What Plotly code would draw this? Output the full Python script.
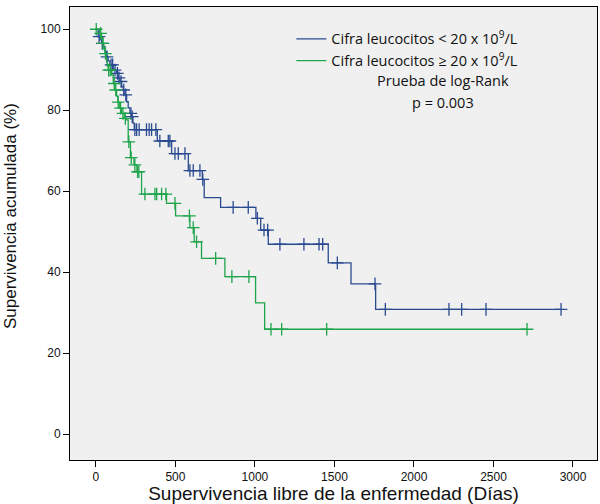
import numpy as np
import plotly.graph_objects as go

# ---- Data ----
# Group 1: Cifra leucocitos < 20 x 10^9/L
blue_event_days = [14, 25, 36, 46, 57, 67, 77, 88, 109, 130, 140, 151, 162, 172, 182, 193,
                   203, 214, 225, 233, 241, 386, 476, 581, 669, 681, 784, 1006, 1036, 1084,
                   1461, 1604, 1759]
blue_survival = [98.2, 97.4, 96.5, 95.7, 94.4, 93.2, 92.2, 91.2, 89.9, 89.1, 88.0, 87.1, 85.8,
                 85.0, 83.8, 82.1, 80.6, 79.2, 78.4, 76.8, 75.2, 72.4, 69.3, 65.1, 62.9, 58.4,
                 56.0, 53.3, 50.4, 46.9, 42.3, 37.1, 30.8]
blue_censor_days = [20, 40, 70, 95, 105, 120, 135, 145, 158, 175, 188, 220, 228, 245, 256, 272,
                    318, 335, 350, 377, 402, 455, 465, 497, 518, 560, 591, 612, 654, 672, 863,
                    958, 1015, 1057, 1080, 1157, 1308, 1403, 1426, 1518, 1755, 1820, 2220, 2300,
                    2453, 2925]
blue_last_day = 2925

# Group 2: Cifra leucocitos >= 20 x 10^9/L
green_event_days = [25, 35, 42, 50, 57, 63, 67, 72, 77, 99, 109, 119, 130, 138, 147, 162, 178,
                    192, 203, 217, 239, 258, 287, 444, 501, 591, 618, 664, 811, 1004, 1061]
green_survival = [99.0, 97.8, 96.5, 95.2, 94.0, 93.0, 92.0, 90.9, 89.9, 88.7, 86.6, 85.0, 83.5,
                  82.0, 80.5, 79.2, 78.0, 77.6, 72.2, 68.3, 66.5, 64.8, 59.3, 57.0, 53.9, 51.0,
                  47.5, 43.4, 38.9, 32.4, 25.9]
green_censor_days = [2, 30, 45, 60, 80, 90, 115, 125, 140, 155, 170, 185, 207, 222, 245, 262,
                     270, 308, 371, 382, 413, 440, 497, 588, 612, 633, 753, 855, 962, 1101, 1168,
                     1451, 2711]
green_last_day = 2711

label_blue = "Cifra leucocitos < 20 x 10<sup>9</sup>/L"
label_green = "Cifra leucocitos \u2265 20 x 10<sup>9</sup>/L"

x_ticks = [0, 500, 1000, 1500, 2000, 2500, 3000]
y_ticks = [0, 20, 40, 60, 80, 100]

BLUE = "#2a4a90"
GREEN = "#1ea54c"


def step_xy(days, surv, last):
    xs = [0] + list(days) + [last]
    ys = [100] + list(surv) + [surv[-1]]
    return xs, ys


def censor_y(days, surv, cens):
    full = np.array([100] + list(surv))
    idx = np.searchsorted(np.array(days), np.array(cens), side="right")
    return full[idx]


fig = go.Figure()
for days, surv, last, cens, col, name in [
    (blue_event_days, blue_survival, blue_last_day, blue_censor_days, BLUE, label_blue),
    (green_event_days, green_survival, green_last_day, green_censor_days, GREEN, label_green),
]:
    xs, ys = step_xy(days, surv, last)
    fig.add_trace(go.Scatter(x=xs, y=ys, mode="lines", line=dict(shape="hv", color=col, width=1.3),
                             name=name, hoverinfo="skip"))
    fig.add_trace(go.Scatter(x=cens, y=censor_y(days, surv, cens), mode="markers",
                             marker=dict(symbol="cross-thin", size=9,
                                         line=dict(color=col, width=1.3), color=col),
                             showlegend=False, hoverinfo="skip"))

L, R, T, B = 70, 3, 7, 44
PW, PH = 600 - L - R, 504 - T - B

axis_font = dict(family="Liberation Sans, Arial", size=12, color="#111")
fig.update_layout(
    width=600, height=504,
    margin=dict(l=L, r=R, t=T, b=B),
    paper_bgcolor="white", plot_bgcolor="#f0f0f0",
    showlegend=True,
    legend=dict(x=0.42, y=0.965, xanchor="left", yanchor="top", bgcolor="rgba(0,0,0,0)",
                font=dict(family="Open Sans", size=14.5, color="#111"), tracegroupgap=0,
                itemwidth=30),
    xaxis=dict(range=[-163, 3151], tickvals=x_ticks, ticks="outside", ticklen=6,
               tickcolor="black", showline=True, linecolor="black", linewidth=1, mirror=True,
               showgrid=False, zeroline=False, tickfont=axis_font,
               title=dict(text="Supervivencia libre de la enfermedad (Días)",
                          font=dict(family="Liberation Sans, Arial", size=19, color="#111"),
                          standoff=2)),
    yaxis=dict(range=[-6.4, 105.5], tickvals=y_ticks, ticks="outside", ticklen=6,
               tickcolor="black", showline=True, linecolor="black", linewidth=1, mirror=True,
               showgrid=False, zeroline=False, tickfont=axis_font),
)
# y-axis title placed as rotated text (position)
fig.add_annotation(x=(10 - L) / PW, y=1 - (216 - T) / PH, xref="paper", yref="paper",
                   xanchor="center", yanchor="middle", textangle=-90,
                   text="Supervivencia acumulada (%)", showarrow=False,
                   font=dict(family="Liberation Sans, Arial", size=17, color="#111"))
ann_font = dict(family="Open Sans", size=14.5, color="#111")
for text, px, py in [("Prueba de log-Rank", 443, 81), ("p = 0.003", 443, 103)]:
    fig.add_annotation(x=(px - L) / PW, y=1 - (py - T) / PH, xref="paper", yref="paper",
                       xanchor="center", yanchor="middle", text=text, showarrow=False,
                       font=ann_font)

fig.write_html("out.html", config={"displayModeBar": False},
               post_script="document.body.style.margin='0';")
